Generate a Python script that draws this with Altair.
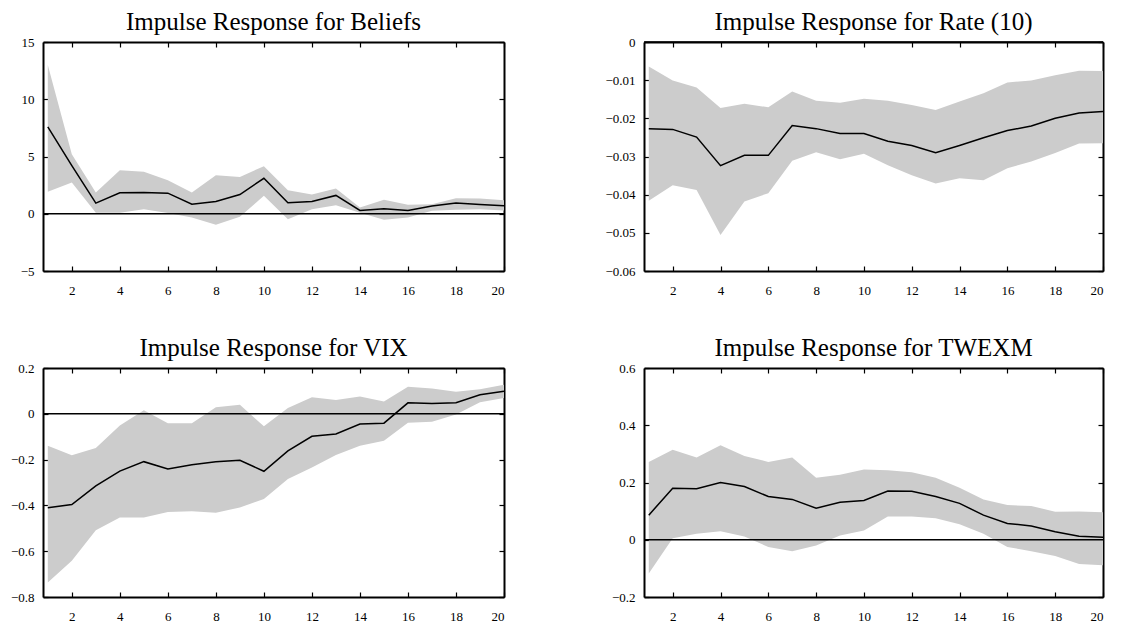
import altair as alt
import pandas as pd

FONT = "Liberation Serif"
BAND = "#cccccc"

steps = list(range(1, 21))

# Impulse Response for Beliefs
beliefs_mid = [7.58, 4.2, 0.93, 1.83, 1.86, 1.80, 0.84, 1.07, 1.68, 3.10,
               0.96, 1.07, 1.60, 0.29, 0.44, 0.29, 0.67, 0.93, 0.81, 0.70]
beliefs_hi = [13.0, 5.2, 1.86, 3.80, 3.66, 2.93, 1.86, 3.37, 3.22, 4.15,
              2.06, 1.68, 2.20, 0.55, 1.22, 0.78, 0.84, 1.36, 1.33, 1.19]
beliefs_lo = [1.92, 2.73, 0.09, 0.09, 0.40, 0.06, -0.32, -0.96, -0.26, 1.57,
              -0.49, 0.40, 0.75, 0.09, -0.52, -0.32, 0.26, 0.35, 0.40, 0.29]

# Impulse Response for Rate (10)
rate_mid = [-0.0227, -0.0229, -0.0249, -0.0324, -0.0297, -0.0297, -0.0219, -0.0227, -0.0240, -0.0240,
            -0.0260, -0.0271, -0.0290, -0.0271, -0.0251, -0.0232, -0.0220, -0.0200, -0.0186, -0.0182]
rate_hi = [-0.0064, -0.0101, -0.0119, -0.0173, -0.0162, -0.0171, -0.0130, -0.0154, -0.0159, -0.0149,
           -0.0154, -0.0165, -0.0178, -0.0156, -0.0134, -0.0106, -0.0101, -0.0087, -0.0075, -0.0076]
rate_lo = [-0.0416, -0.0375, -0.0388, -0.0506, -0.0418, -0.0396, -0.0311, -0.0289, -0.0307, -0.0293,
           -0.0323, -0.0349, -0.0371, -0.0357, -0.0362, -0.0331, -0.0313, -0.0291, -0.0266, -0.0265]

# Impulse Response for VIX
vix_mid = [-0.410, -0.396, -0.315, -0.250, -0.209, -0.241, -0.222, -0.209, -0.203, -0.251,
           -0.162, -0.098, -0.088, -0.045, -0.041, 0.048, 0.045, 0.048, 0.083, 0.098]
vix_hi = [-0.140, -0.181, -0.149, -0.051, 0.015, -0.041, -0.041, 0.029, 0.039, -0.054,
          0.025, 0.072, 0.060, 0.076, 0.054, 0.118, 0.111, 0.096, 0.107, 0.127]
vix_lo = [-0.737, -0.642, -0.508, -0.453, -0.453, -0.429, -0.425, -0.432, -0.409, -0.372,
          -0.285, -0.234, -0.180, -0.140, -0.118, -0.039, -0.035, -0.003, 0.050, 0.069]

# Impulse Response for TWEXM
twexm_mid = [0.086, 0.180, 0.178, 0.200, 0.186, 0.151, 0.141, 0.110, 0.131, 0.137,
             0.170, 0.169, 0.151, 0.127, 0.086, 0.057, 0.048, 0.028, 0.012, 0.009]
twexm_hi = [0.272, 0.314, 0.287, 0.330, 0.293, 0.272, 0.287, 0.217, 0.227, 0.245,
            0.243, 0.236, 0.217, 0.182, 0.141, 0.121, 0.118, 0.098, 0.099, 0.096]
twexm_lo = [-0.118, 0.005, 0.021, 0.030, 0.011, -0.025, -0.040, -0.020, 0.015, 0.032,
            0.081, 0.081, 0.075, 0.054, 0.021, -0.025, -0.040, -0.057, -0.085, -0.089]

x_ticks = [2, 4, 6, 8, 10, 12, 14, 16, 18, 20]
x_domain = [0.8, 20]


def axis(orient, values, labels=True, pad=9):
    # domain line forms the frame; ticks point inward (negative size via expression)
    return alt.Axis(
        orient=orient, values=values, labels=labels, format="~f",
        domain=True, domainColor="black", domainWidth=2,
        grid=False, ticks=True, tickSize={"expr": "-5"},
        tickColor="black", tickWidth=1.2, labelPadding=pad,
        labelFont=FONT, labelFontSize=13, labelColor="black",
        title=None,
    )


def panel(title, mid, lo, hi, y_domain, y_ticks, w):
    df = pd.DataFrame({"h": steps, "mid": mid, "lo": lo, "hi": hi})
    xs = alt.Scale(domain=x_domain, nice=False, zero=False)
    ys = alt.Scale(domain=y_domain, nice=False, zero=False)
    band = alt.Chart(df).mark_area(color=BAND, opacity=1).encode(
        x=alt.X("h:Q", scale=xs, axis=axis("bottom", x_ticks, pad=18)),
        y=alt.Y("lo:Q", scale=ys, axis=axis("left", y_ticks, pad=14)),
        y2="hi:Q",
    )
    zero = alt.Chart(pd.DataFrame({"z": [0]})).mark_rule(
        color="black", strokeWidth=1.5
    ).encode(y=alt.Y("z:Q", scale=ys, axis=None))
    line = alt.Chart(df).mark_line(color="black", strokeWidth=1.5).encode(
        x=alt.X("h:Q", scale=xs, axis=axis("top", x_ticks, labels=False)),
        y=alt.Y("mid:Q", scale=ys, axis=axis("right", y_ticks, labels=False)),
    )
    return alt.layer(band, zero, line).resolve_axis(x="independent", y="independent").properties(
        width=w, height=229,
        title=alt.TitleParams(title, font=FONT, fontSize=25, fontWeight="normal",
                              color="black", offset=1, anchor="middle"),
    )


p1 = panel("Impulse Response for Beliefs", beliefs_mid, beliefs_lo, beliefs_hi,
           [-5, 15], [-5, 0, 5, 10, 15], 461)
p2 = panel("Impulse Response for Rate (10)", rate_mid, rate_lo, rate_hi,
           [-0.06, 0], [-0.06, -0.05, -0.04, -0.03, -0.02, -0.01, 0], 459)
p3 = panel("Impulse Response for VIX", vix_mid, vix_lo, vix_hi,
           [-0.8, 0.2], [-0.8, -0.6, -0.4, -0.2, 0, 0.2], 461)
p4 = panel("Impulse Response for TWEXM", twexm_mid, twexm_lo, twexm_hi,
           [-0.2, 0.6], [-0.2, 0, 0.2, 0.4, 0.6], 459)

chart = alt.concat(p1, p2, p3, p4, columns=2, spacing={"row": 39, "column": 97}).properties(
    padding={"top": 2, "left": 2, "right": 0, "bottom": 0},
    background="white",
).configure_view(stroke=None)

chart.save("out.html", embed_options={"renderer": "svg", "actions": False})
